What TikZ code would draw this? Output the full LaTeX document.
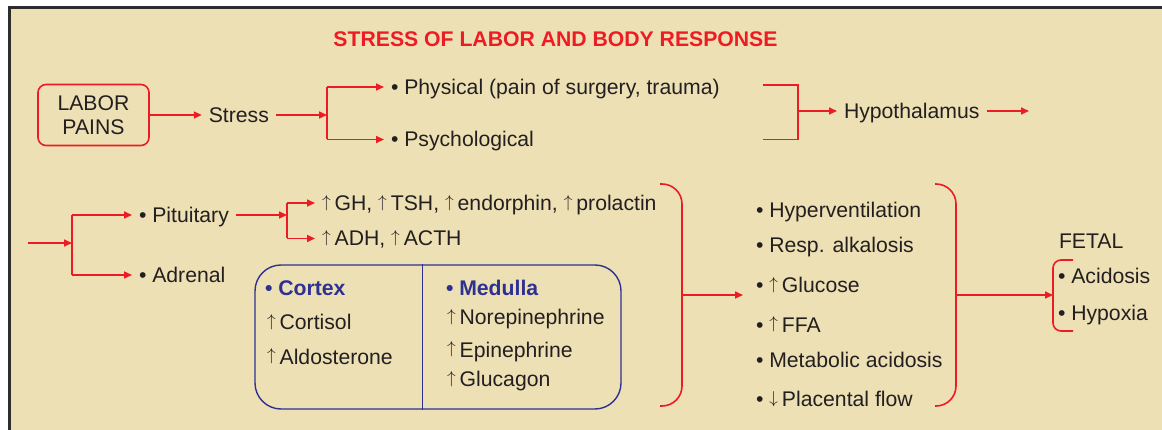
\documentclass[tikz,border=0pt]{standalone}
\usepackage{fontspec}
\setmainfont{Liberation Sans}
\usetikzlibrary{positioning,arrows.meta,calc}

\definecolor{pagebg}{RGB}{237,224,180}
\definecolor{arrred}{RGB}{237,28,36}
\definecolor{boxblue}{RGB}{46,49,146}
\definecolor{inkgray}{RGB}{35,31,32}
\definecolor{framegray}{RGB}{45,45,45}

\newcommand{\upar}{\raisebox{3.4pt}{\fontsize{18}{18}\selectfont$\uparrow$}\hspace{4pt}}
\newcommand{\downar}{\raisebox{3.4pt}{\fontsize{18}{18}\selectfont$\downarrow$}\hspace{4pt}}

\begin{document}
\begin{tikzpicture}[
  x=1pt, y=-1pt,
  every node/.style={font=\fontsize{21.2}{24}\selectfont, text=inkgray},
  txt/.style   ={inner sep=0pt, outer xsep=7pt, outer ysep=0pt,
                 text height=15pt, text depth=0pt, anchor=west},
  head/.style  ={txt, text=boxblue, font=\fontsize{21.2}{24}\selectfont\bfseries},
  heading/.style={font=\fontsize{21.2}{24}\selectfont\bfseries, text=arrred,
                 inner sep=0pt, text height=15pt, text depth=0pt},
  srcbox/.style={draw=arrred, line width=1.6pt, rounded corners=8pt,
                 minimum width=111pt, minimum height=61pt, align=center, inner sep=0pt},
  adbox/.style ={draw=boxblue, line width=1.4pt, rounded corners=26pt,
                 minimum width=366pt, minimum height=144pt, inner sep=0pt},
  wire/.style  ={draw=arrred, line width=1.6pt},
  arr/.style   ={wire, -{Triangle[length=8pt,width=7pt]}},
  brk/.style   ={wire, rounded corners=20pt},
  node distance=52pt
]
\useasboundingbox (0,0) rectangle (1162,430);

%% ---- Page and frame ----------------------------------------------
\fill[pagebg] (8,6) rectangle (1162,430);
\draw[framegray, line width=3pt] (9.5,430) -- (9.5,7.5) -- (1162,7.5);

%% ---- Title -------------------------------------------------------
\node[heading] (title) at (555.5,39.5) {STRESS OF LABOR AND BODY RESPONSE};

%% ---- Row 1: labor pains to hypothalamus ---------------------------
\node[srcbox] (labor) at (93.5,115) {LABOR\\PAINS};
\node[txt, right=of labor] (stress) {Stress};
\coordinate (fk1) at (327,115);
\node[txt] (phys)  at (384,87)    {• Physical (pain of surgery, trauma)};
\node[txt] (psych) at (384,139.5) {• Psychological};

\coordinate (jn1) at (798,111);
\node[txt] (hypo) at (837,111) {Hypothalamus};
\coordinate (hypoout) at (1029,111);

\draw[arr]  (labor) -- (stress);
\draw[arr]  (stress) -- (fk1);
\draw[wire] (fk1 |- phys) -- (fk1 |- psych);
\draw[arr]  (fk1 |- phys) -- (phys);
\draw[arr]  (fk1 |- psych) -- (psych);
\draw[wire] ($(jn1 |- phys)+(-35,-2)$) -| ($(jn1 |- psych)$) -- +(-35,0);
\draw[arr]  (jn1) -- (hypo);
\draw[arr]  (hypo) -- (hypoout);

%% ---- Row 2: pituitary and adrenal --------------------------------
\coordinate (inflow) at (28,243);
\coordinate (fk2) at (72,243);
\node[txt] (pit) at (132,215) {• Pituitary};
\node[txt] (adr) at (132,275) {• Adrenal};
\coordinate (fk3) at (287,215);
\node[txt] (gh)  at (315,203)   {\upar GH, \upar TSH, \upar endorphin, \upar prolactin};
\node[txt] (adh) at (315,238.5) {\upar ADH, \upar ACTH};

\draw[arr]  (inflow) -- (fk2);
\draw[wire] (fk2 |- pit) -- (fk2 |- adr);
\draw[arr]  (fk2 |- pit) -- (pit);
\draw[arr]  (fk2 |- adr) -- (adr);
\draw[arr]  (pit) -- (fk3);
\draw[wire] (fk3 |- gh) -- (fk3 |- adh);
\draw[arr]  (fk3 |- gh) -- (gh);
\draw[arr]  (fk3 |- adh) -- (adh);

%% ---- Adrenal box: cortex | medulla ------------------------------
\node[adbox] (adbox) at (438,337) {};
\draw[boxblue, line width=1.4pt] ($(adbox.north west)+(168,0)$) -- ($(adbox.south west)+(168,0)$);
\node[head] (cortex)  at (258,288.5) {• Cortex};
\node[txt]  (cort)    at (260,322.5) {\upar Cortisol};
\node[txt]  (aldo)    at (260,356.5) {\upar Aldosterone};
\node[head] (medulla) at (439,288.5) {• Medulla};
\node[txt]  (norep)   at (440,317)   {\upar Norepinephrine};
\node[txt]  (epi)     at (440,349.5) {\upar Epinephrine};
\node[txt]  (gluca)   at (440,379)   {\upar Glucagon};

%% ---- Maternal effects --------------------------------------------
\coordinate (jn2) at (682,295);
\node[txt] (e1) at (749,210.5) {• Hyperventilation};
\node[txt] (e2) at (749,245.5) {• Resp. alkalosis};
\node[txt] (e3) at (749,285)   {• \upar Glucose};
\node[txt] (e4) at (749,324.5) {• \upar FFA};
\node[txt] (e5) at (749,359.5) {• Metabolic acidosis};
\node[txt] (e6) at (749,399)   {• \downar Placental flow};

\draw[brk] ($(jn2)+(-22,-111)$) -| ($(jn2)+(0,111)$) -- +(-22,0);
\draw[arr, shorten >=6pt] (jn2) -- (jn2 -| e3.west);

%% ---- Fetal effects -----------------------------------------------
\coordinate (jn3) at (956,295);
\coordinate (fbr) at (1053,295);
\node[txt] (fetal) at (1052,241)   {FETAL};
\node[txt] (acid)  at (1051,276.5) {• Acidosis};
\node[txt] (hypox) at (1051,313)   {• Hypoxia};

\draw[brk] ($(jn3)+(-21,-111)$) -| ($(jn3)+(0,111)$) -- +(-21,0);
\draw[arr] (jn3) -- (fbr);
\draw[wire, rounded corners=8pt] ($(fbr)+(20,-35)$) -| ($(fbr)+(0,36)$) -- +(20,0);

\end{tikzpicture}
\end{document}
